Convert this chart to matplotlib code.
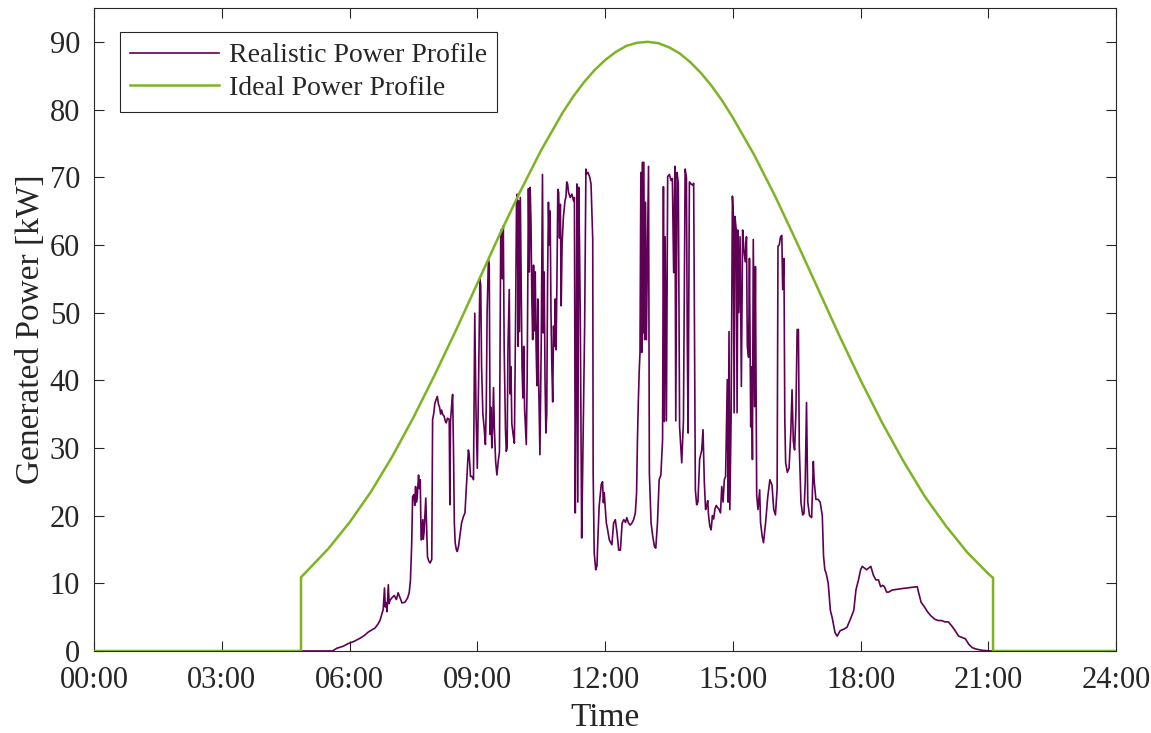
import matplotlib
matplotlib.use("Agg")
import matplotlib.pyplot as plt

# ---- Ideal (clear-sky) power profile, kW vs. hour of day ----
ideal_hours = [0.0, 4.86, 4.86, 5.0, 5.5, 6.0, 6.5, 7.0, 7.5, 8.0, 8.5, 9.0, 9.5,
               10.0, 10.5, 11.0, 11.25, 11.5, 11.75, 12.0, 12.25, 12.5, 12.75, 13.0,
               13.25, 13.5, 13.75, 14.0, 14.25, 14.5, 14.75, 15.0, 15.5, 16.0, 16.5,
               17.0, 17.5, 18.0, 18.5, 19.0, 19.5, 20.0, 20.5, 21.0, 21.11, 21.11, 24.0]
ideal_kw = [0.0, 0.0, 10.9, 11.8, 15.1, 19.0, 23.5, 28.7, 34.5, 40.8, 47.4, 54.3, 61.2,
            67.8, 74.0, 79.5, 81.9, 84.0, 85.8, 87.3, 88.5, 89.4, 89.86, 90.0,
            89.8, 89.2, 88.3, 87.0, 85.4, 83.5, 81.3, 78.8, 73.3, 67.1, 60.4,
            53.5, 46.6, 40.0, 33.8, 28.1, 22.9, 18.5, 14.6, 11.4, 10.8, 0.0, 0.0]

# ---- Measured (realistic) power profile, kW vs. hour of day ----
realistic_hours = [
    0.00, 5.60, 5.70, 5.85, 5.97, 6.10, 6.25, 6.35, 6.44, 6.52, 6.60, 6.67, 6.72, 6.76,
    6.79, 6.82, 6.84, 6.86, 6.88, 6.91, 6.93, 6.95, 7.00, 7.05, 7.10, 7.14, 7.19, 7.23,
    7.30, 7.36, 7.40, 7.43, 7.46, 7.48, 7.51, 7.53, 7.55, 7.57, 7.59, 7.62, 7.64, 7.66,
    7.68, 7.70, 7.72, 7.73, 7.75, 7.77, 7.79, 7.81, 7.83, 7.86, 7.89, 7.93, 7.95, 7.98,
    8.00, 8.03, 8.06, 8.09, 8.11, 8.14, 8.16, 8.19, 8.22, 8.25, 8.27, 8.30, 8.34, 8.355,
    8.37, 8.40, 8.42, 8.44, 8.46, 8.48, 8.51, 8.53, 8.56, 8.60, 8.63, 8.67, 8.71, 8.75,
    8.79, 8.81, 8.84, 8.87, 8.91,
    8.94, 8.97, 9.00, 9.03, 9.06, 9.08, 9.10, 9.13, 9.16, 9.19, 9.21, 9.23, 9.26, 9.28,
    9.30, 9.32, 9.34, 9.36, 9.38, 9.40, 9.43, 9.46, 9.49, 9.52, 9.55, 9.57, 9.59, 9.61,
    9.63, 9.66, 9.68, 9.70, 9.72, 9.75, 9.77, 9.79, 9.81, 9.84, 9.87, 9.90, 9.92, 9.94,
    9.96, 9.97, 9.99, 10.01, 10.03, 10.05, 10.07, 10.09, 10.11, 10.13, 10.15, 10.17,
    10.20, 10.22, 10.24, 10.26, 10.28, 10.30, 10.32, 10.34, 10.36, 10.38, 10.40, 10.42,
    10.44, 10.47, 10.50, 10.53, 10.55, 10.57, 10.59, 10.61, 10.63, 10.65, 10.67, 10.69,
    10.71, 10.73, 10.75, 10.77, 10.79, 10.81, 10.83, 10.85, 10.87, 10.89, 10.91, 10.93,
    10.95, 10.97, 10.99, 11.02, 11.06, 11.08, 11.10, 11.12, 11.14, 11.18, 11.22, 11.26,
    11.28, 11.30, 11.32, 11.34, 11.36, 11.38, 11.40, 11.42, 11.45, 11.47, 11.49, 11.52,
    11.55, 11.57, 11.60, 11.64, 11.67, 11.71, 11.72, 11.745,
    11.78, 11.81, 11.83, 11.86, 11.91, 11.94, 11.96, 11.98, 12.00, 12.03, 12.06, 12.10,
    12.16, 12.20, 12.24, 12.28, 12.32, 12.36, 12.40, 12.44, 12.48, 12.51, 12.55, 12.59,
    12.63, 12.67, 12.71, 12.74, 12.76, 12.78, 12.80, 12.82, 12.84, 12.86, 12.88, 12.89,
    12.91, 12.93, 12.95, 12.97, 13.02, 13.04, 13.08, 13.12, 13.16, 13.19, 13.23, 13.27,
    13.31, 13.35, 13.37, 13.39, 13.41, 13.44, 13.47, 13.51, 13.55, 13.58, 13.61, 13.64,
    13.66, 13.69, 13.72, 13.75, 13.80, 13.84, 13.88, 13.91, 13.93, 13.95, 13.98, 14.02,
    14.06, 14.08,
    14.12, 14.15, 14.18, 14.22, 14.27, 14.30, 14.33, 14.36, 14.39, 14.41, 14.43, 14.46,
    14.49, 14.52, 14.55, 14.58, 14.61, 14.64, 14.67, 14.71, 14.74, 14.77, 14.80, 14.83,
    14.87, 14.89, 14.91, 14.93, 14.96, 14.99, 15.01, 15.03, 15.05, 15.08, 15.10, 15.12,
    15.14, 15.17, 15.20, 15.23, 15.26, 15.29, 15.32, 15.34, 15.37, 15.39, 15.42, 15.44,
    15.46, 15.48, 15.51, 15.53, 15.56, 15.59, 15.63, 15.65, 15.69, 15.72, 15.77, 15.82,
    15.87, 15.92, 15.96, 16.00, 16.04, 16.06, 16.09, 16.12, 16.15, 16.17, 16.20, 16.22,
    16.24, 16.28, 16.32, 16.36, 16.39, 16.42, 16.45, 16.48, 16.51, 16.54, 16.56, 16.60,
    16.64, 16.67, 16.70, 16.73, 16.76, 16.80, 16.85, 16.89, 16.91, 16.95, 17.00, 17.05,
    17.10, 17.13, 17.16, 17.19, 17.24, 17.29, 17.33, 17.40, 17.45, 17.52, 17.60, 17.68,
    17.76, 17.84, 17.89, 17.95, 18.00, 18.04, 18.08, 18.14, 18.20, 18.24, 18.30, 18.36,
    18.42, 18.47, 18.52, 18.56, 18.61, 18.66, 18.74, 18.95, 19.20, 19.33, 19.36, 19.42,
    19.50, 19.57, 19.65, 19.74, 19.82, 19.90, 19.98, 20.06, 20.14, 20.22, 20.30, 20.38,
    20.46, 20.54, 20.62, 20.70, 20.85, 21.05, 24.00]
realistic_kw = [
    0.0, 0.0, 0.4, 0.7, 1.1, 1.4, 1.9, 2.3, 2.8, 3.1, 3.4, 4.0, 4.6, 5.5,
    6.1, 9.3, 6.5, 7.1, 5.8, 9.8, 7.0, 7.5, 7.9, 8.2, 7.6, 8.6, 7.8, 7.1,
    7.2, 7.8, 8.6, 10.5, 16.0, 22.8, 23.1, 21.5, 24.3, 22.0, 22.8, 26.0, 24.0, 25.3,
    16.4, 18.0, 19.4, 16.5, 17.6, 20.0, 22.6, 18.0, 13.9, 13.3, 13.0, 13.5, 34.2, 35.2,
    36.5, 37.1, 37.6, 36.4, 36.1, 35.0, 35.6, 34.9, 34.7, 33.9, 33.7, 34.4, 34.2, 21.6,
    34.0, 36.5, 37.9, 30.0, 19.0, 16.0, 14.9, 14.7, 15.5, 17.5, 18.9, 19.8, 20.4, 25.0,
    29.7, 29.0, 25.8, 25.8, 25.3,
    49.9, 35.0, 27.0, 40.0, 55.0, 54.0, 42.0, 35.0, 33.0, 30.5, 36.0, 50.0, 57.8, 57.0,
    32.0, 36.0, 30.0, 33.0, 38.9, 33.0, 28.0, 26.0, 28.0, 29.4, 62.0, 62.3, 55.0, 62.8,
    45.0, 33.0, 29.5, 30.0, 45.0, 53.4, 38.0, 42.0, 33.6, 32.0, 30.7, 50.0, 66.0, 67.5,
    45.0, 66.5, 47.2, 67.0, 55.0, 42.0, 37.4, 45.0, 35.8, 33.0, 30.5, 40.0,
    68.3, 56.0, 68.5, 63.5, 52.0, 46.0, 57.0, 47.3, 56.0, 45.0, 39.2, 52.0,
    40.0, 29.0, 45.0, 70.4, 47.0, 56.0, 40.0, 32.2, 35.0, 55.0, 66.3, 60.0,
    65.0, 50.0, 42.0, 36.8, 48.0, 45.0, 52.0, 44.5, 55.0, 68.2, 67.7, 61.0,
    66.0, 51.0, 60.0, 64.0, 66.6, 67.0, 69.3, 69.0, 67.8, 67.0, 67.5, 66.5,
    67.0, 20.4, 40.0, 69.0, 22.0, 68.5, 60.0, 47.5, 16.7, 25.0, 34.5, 48.0,
    71.2, 70.5, 70.7, 70.0, 69.0, 60.8, 26.3, 14.5,
    12.0, 12.6, 16.4, 21.3, 24.6, 25.0, 21.9, 23.4, 21.5, 18.9, 17.9, 16.4,
    15.7, 18.9, 19.4, 17.5, 14.9, 14.9, 18.9, 19.4, 19.0, 19.7, 18.9, 18.6,
    18.9, 19.4, 20.4, 23.4, 31.2, 36.7, 41.1, 44.1, 70.7, 44.1, 72.2, 47.0,
    72.2, 46.0, 66.3, 46.0, 71.6, 26.3, 18.9, 16.9, 15.4, 15.2, 18.9, 25.3,
    26.0, 31.2, 68.6, 33.9, 61.2, 34.0, 70.1, 70.4, 69.5, 69.8, 55.9, 71.6,
    34.0, 70.7, 69.0, 33.1, 27.8, 34.0, 71.2, 70.0, 46.0, 32.2, 69.3, 69.0,
    68.8, 69.1,
    23.8, 21.6, 22.0, 28.3, 29.7, 32.7, 25.0, 20.9, 21.5, 22.2, 20.0, 18.4,
    17.9, 20.0, 19.5, 21.0, 21.5, 21.2, 21.0, 20.4, 24.3, 22.0, 25.3, 25.8,
    40.1, 22.0, 47.2, 20.9, 35.0, 67.2, 64.8, 35.2, 64.2, 62.2, 35.2, 62.2,
    50.0, 61.2, 39.1, 62.2, 59.3, 57.5, 61.2, 45.0, 43.4, 58.0, 33.1, 42.0,
    28.3, 60.8, 36.1, 56.8, 23.0, 20.9, 23.8, 19.0, 16.9, 16.0, 19.0, 22.8,
    25.3, 24.5, 20.9, 20.1, 24.0, 59.8, 60.0, 61.2, 61.4, 53.4, 58.0, 34.2,
    27.8, 26.4, 27.0, 32.2, 38.6, 31.0, 29.7, 35.0, 47.5, 47.5, 30.2, 21.9,
    20.1, 20.3, 25.0, 36.7, 22.0, 20.0, 19.7, 28.0, 25.1, 22.4, 22.4, 22.0,
    20.0, 14.0, 12.0, 11.5, 10.0, 6.0, 5.0, 2.7, 2.2, 3.0, 3.2, 3.5,
    4.7, 6.0, 9.0, 10.5, 12.0, 12.5, 12.3, 12.0, 12.3, 12.5, 11.2, 10.5,
    10.5, 9.5, 9.7, 9.5, 8.7, 8.7, 9.0, 9.2, 9.4, 9.5, 8.7, 7.2,
    6.5, 5.8, 5.2, 4.7, 4.5, 4.5, 4.3, 4.3, 3.7, 3.0, 2.2, 2.0,
    1.8, 1.0, 0.5, 0.3, 0.1, 0.0, 0.0]

hour_ticks = [0, 3, 6, 9, 12, 15, 18, 21, 24]
hour_labels = ["00:00", "03:00", "06:00", "09:00", "12:00", "15:00", "18:00", "21:00", "24:00"]
power_ticks = [0, 10, 20, 30, 40, 50, 60, 70, 80, 90]

plt.rcParams["font.family"] = ["Liberation Serif", "DejaVu Serif"]
ink = "#262626"

fig = plt.figure(figsize=(11.51, 7.33), dpi=100)
ax = fig.add_axes([0.0817, 0.1119, 0.8880, 0.8772])

ax.plot(realistic_hours, realistic_kw, color="#5F0055", lw=1.2,
        label="Realistic Power Profile", zorder=3)
ax.plot(ideal_hours, ideal_kw, color="#7DB423", lw=1.8,
        label="Ideal Power Profile", zorder=4)

ax.set_xlim(0, 24)
ax.set_ylim(0, 95)
ax.set_xticks(hour_ticks)
ax.set_xticklabels(hour_labels)
ax.set_yticks(power_ticks)
ax.tick_params(axis="both", which="both", direction="in", length=7, width=0.8,
               colors=ink, labelsize=22, top=True, right=True)
ax.tick_params(axis="x", pad=11)
ax.tick_params(axis="y", pad=10)
for sp in ax.spines.values():
    sp.set_color(ink)
    sp.set_linewidth(0.8)

ax.set_xlabel("Time", fontsize=24, color=ink, labelpad=5)
ax.set_ylabel("Generated Power [kW]", fontsize=24, color=ink, labelpad=3)

leg = ax.legend(loc="upper left", bbox_to_anchor=(0.025, 0.962), fontsize=20,
                frameon=True, fancybox=False, framealpha=1, edgecolor=ink,
                handlelength=3.2, handletextpad=0.35, borderpad=0.38,
                labelspacing=0.26, borderaxespad=0.0)
leg.get_frame().set_linewidth(0.8)
for t in leg.get_texts():
    t.set_color(ink)

fig.savefig("out.png", dpi=100)
